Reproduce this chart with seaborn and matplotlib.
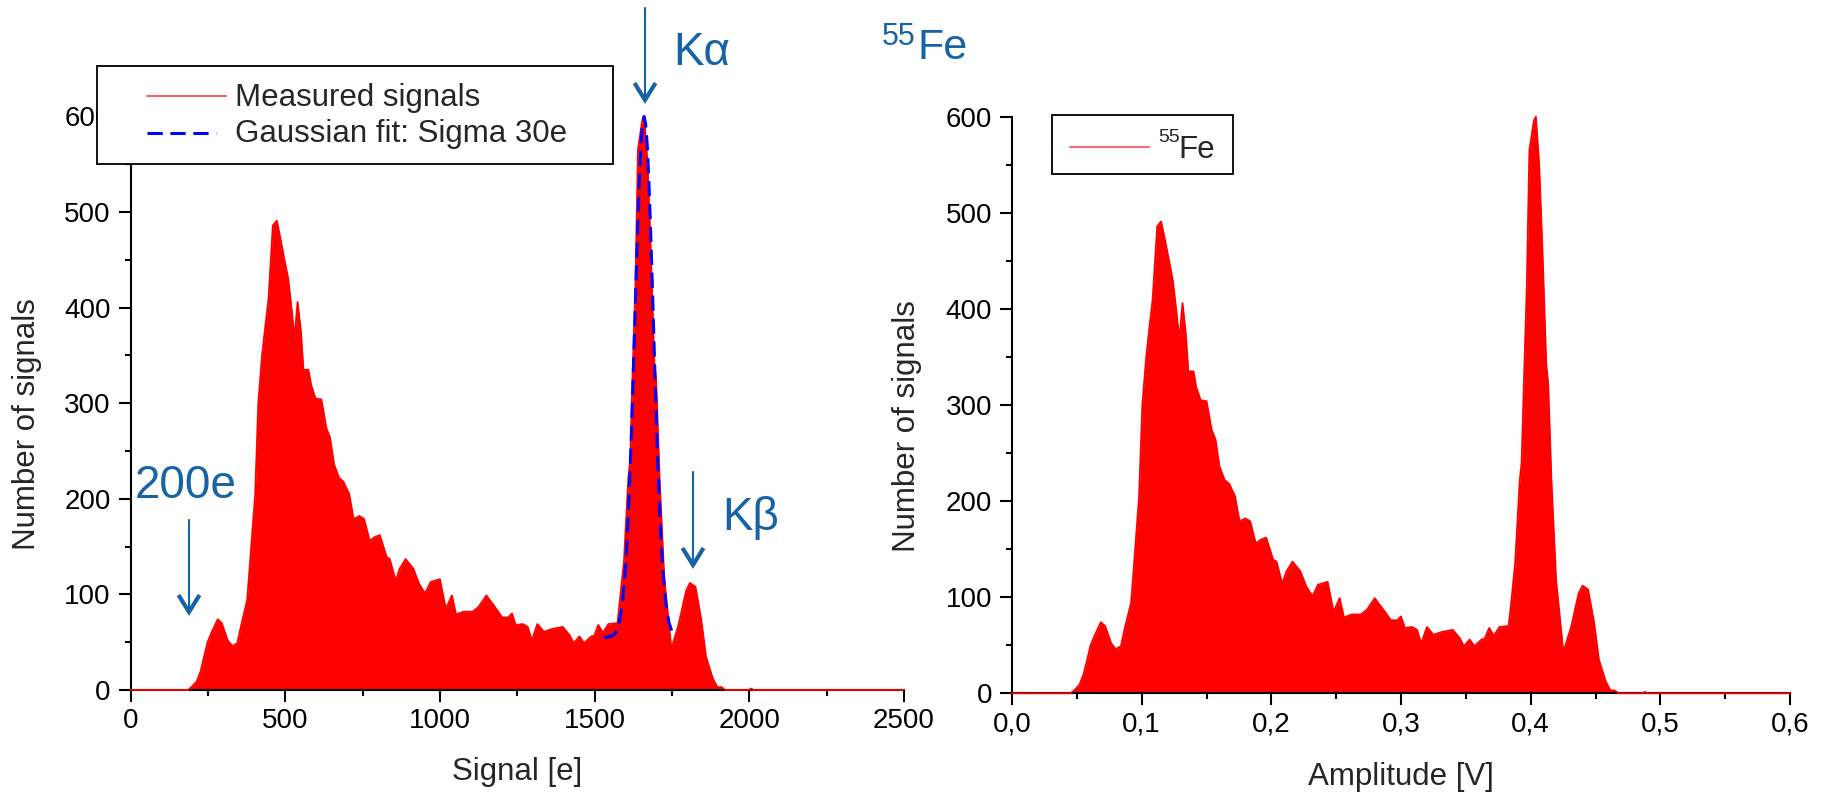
import matplotlib
matplotlib.use("Agg")
import matplotlib.pyplot as plt
from matplotlib.lines import Line2D
from matplotlib.patches import Rectangle
from matplotlib.ticker import FixedLocator, FixedFormatter, MultipleLocator
import pandas as pd
import seaborn as sns

# ---------------- data ----------------
amplitude_v = [0.000, 0.045, 0.048, 0.052, 0.055, 0.058, 0.0606, 0.064, 0.0685, 0.0718,
               0.0765, 0.080, 0.084, 0.087, 0.0918, 0.094, 0.098, 0.1005, 0.1035, 0.106,
               0.1084, 0.112, 0.115, 0.1175, 0.121, 0.124, 0.127, 0.129, 0.1315, 0.134,
               0.136, 0.140, 0.142, 0.1455, 0.150, 0.154, 0.157, 0.160, 0.164, 0.1675,
               0.172, 0.1755, 0.180, 0.1837, 0.188, 0.192, 0.196, 0.2014, 0.204, 0.2084,
               0.2117, 0.2163, 0.2224, 0.227, 0.2317, 0.236, 0.2434, 0.248, 0.2527, 0.256,
               0.262, 0.269, 0.2737, 0.2797, 0.2853, 0.2923, 0.297, 0.300, 0.303, 0.3086,
               0.3124, 0.3156, 0.320, 0.325, 0.332, 0.340, 0.3455, 0.3485, 0.353, 0.3566,
               0.3622, 0.3646, 0.368, 0.3716, 0.376, 0.383, 0.3855, 0.388, 0.3916, 0.393,
               0.395, 0.397, 0.399, 0.4025, 0.404, 0.4065, 0.409, 0.412, 0.4135, 0.416,
               0.4196, 0.4252, 0.431, 0.437, 0.440, 0.4443, 0.449, 0.4526, 0.458, 0.4616,
               0.4648, 0.468, 0.486, 0.488, 0.490, 0.600]

signal_e = [0, 185, 197, 214, 226, 238, 249, 263, 282, 295,
            314, 329, 345, 358, 377, 386, 403, 413, 425, 436,
            446, 460, 473, 483, 497, 510, 522, 530, 540, 551,
            559, 575, 584, 598, 617, 633, 645, 658, 674, 688,
            707, 721, 740, 755, 773, 789, 806, 828, 838, 857,
            870, 889, 914, 933, 952, 970, 1000, 1019, 1039, 1052,
            1077, 1106, 1125, 1150, 1173, 1201, 1221, 1233, 1245, 1268,
            1284, 1297, 1315, 1336, 1365, 1397, 1420, 1432, 1451, 1466,
            1489, 1499, 1512, 1527, 1545, 1574, 1584, 1595, 1609, 1615,
            1623, 1632, 1640, 1654, 1660, 1671, 1681, 1693, 1699, 1710,
            1725, 1748, 1771, 1796, 1808, 1826, 1845, 1860, 1882, 1897,
            1910, 1923, 1997, 2006, 2014, 2500]

counts = [0, 0, 3, 9, 19, 35, 50, 61, 74, 70,
          52, 46, 49, 68, 94, 132, 205, 300, 350, 381,
          409, 486, 491, 475, 451, 430, 395, 368, 406, 375,
          335, 335, 319, 305, 304, 274, 264, 236, 222, 218,
          205, 179, 182, 179, 156, 160, 162, 139, 137, 114,
          127, 137, 127, 111, 101, 113, 116, 85, 99, 79,
          82, 82, 87, 99, 89, 76, 76, 80, 68, 69,
          66, 52, 69, 61, 64, 66, 57, 49, 56, 49,
          56, 57, 68, 60, 69, 70, 101, 135, 222, 240,
          333, 423, 565, 596, 600, 552, 465, 343, 323, 222,
          118, 43, 68, 104, 112, 108, 73, 35, 12, 3,
          3, 0, 0, 1.5, 0, 0]

fit_signal_e = [1530, 1540, 1550, 1560, 1570, 1580, 1590, 1600, 1605, 1610, 1615, 1620,
                1625, 1630, 1635, 1640, 1645, 1650, 1655, 1660, 1665, 1670, 1675, 1680,
                1685, 1690, 1695, 1700, 1705, 1710, 1715, 1720, 1730, 1740, 1750]
fit_counts = [55, 55, 56, 57, 61, 71, 91, 129, 156, 191, 232, 279,
              331, 386, 440, 491, 536, 571, 592, 600, 592, 571, 536, 491,
              440, 386, 331, 279, 232, 191, 156, 129, 91, 71, 61]

signal_ticks = [0, 500, 1000, 1500, 2000, 2500]
signal_tick_labels = ["0", "500", "1000", "1500", "2000", "2500"]
amp_ticks = [0.0, 0.1, 0.2, 0.3, 0.4, 0.5, 0.6]
amp_tick_labels = ["0,0", "0,1", "0,2", "0,3", "0,4", "0,5", "0,6"]
count_ticks = [0, 100, 200, 300, 400, 500, 600]
count_tick_labels = ["0", "100", "200", "300", "400", "500", "600"]

# ---------------- style ----------------
sns.set_style("ticks")
plt.rcParams["font.family"] = ["Liberation Sans", "DejaVu Sans"]

W, H = 1828, 794
fig = plt.figure(figsize=(W / 100, H / 100), dpi=100)


def fx(x):
    return x / W


def fy(y):
    return 1 - y / H


axL = fig.add_axes([fx(130.5), fy(690), (904 - 130.5) / W, (690 - 116.5) / H])
axR = fig.add_axes([fx(1012), fy(693.3), (1790 - 1012) / W, (693.3 - 116.7) / H])

df = pd.DataFrame({"amplitude_v": amplitude_v, "signal_e": signal_e, "counts": counts})
fit_df = pd.DataFrame({"signal_e": fit_signal_e, "counts": fit_counts})

RED = "#ff0000"
for ax, xcol in ((axL, "signal_e"), (axR, "amplitude_v")):
    ax.fill_between(df[xcol], df["counts"], 0, color=RED, lw=0, zorder=2)
    sns.lineplot(data=df, x=xcol, y="counts", ax=ax, color=RED, lw=1.3,
                 estimator=None, sort=False, zorder=3, clip_on=False)

sns.lineplot(data=fit_df, x="signal_e", y="counts", ax=axL, color="#0000ff", lw=2.2,
             linestyle=(0, (5, 2.5)), estimator=None, sort=False, zorder=4, clip_on=False)

TICK_FS = 20
LABEL_FS = 22.5
for ax in (axL, axR):
    ax.set_ylim(0, 600)
    ax.yaxis.set_major_locator(FixedLocator(count_ticks))
    ax.yaxis.set_major_formatter(FixedFormatter(count_tick_labels))
    ax.yaxis.set_minor_locator(MultipleLocator(50))
    sns.despine(ax=ax)
    for s in ("left", "bottom"):
        ax.spines[s].set_linewidth(1.5)
        ax.spines[s].set_color("black")
    ax.tick_params(which="major", direction="out", length=8.4, width=1.5,
                   labelsize=TICK_FS, colors="black")
    ax.tick_params(which="minor", direction="out", length=4.5, width=1.5, colors="black")
    ax.tick_params(axis="x", which="major", pad=4.5)
    ax.tick_params(axis="y", which="major", pad=6.0)
    ax.set_ylabel("Number of signals", fontsize=LABEL_FS)
    ax.set_facecolor("white")

axL.set_xlim(0, 2500)
axL.xaxis.set_major_locator(FixedLocator(signal_ticks))
axL.xaxis.set_major_formatter(FixedFormatter(signal_tick_labels))
axL.xaxis.set_minor_locator(MultipleLocator(250))
axL.set_xlabel("Signal [e]", fontsize=LABEL_FS)
axL.xaxis.set_label_coords(0.5, -0.1175)
axL.yaxis.set_label_coords((42 - 130.5) / 773.5, 0.463)

axR.set_xlim(0, 0.6)
axR.xaxis.set_major_locator(FixedLocator(amp_ticks))
axR.xaxis.set_major_formatter(FixedFormatter(amp_tick_labels))
axR.xaxis.set_minor_locator(MultipleLocator(0.05))
axR.set_xlabel("Amplitude [V]", fontsize=LABEL_FS)
axR.xaxis.set_label_coords(0.5, -0.119)
axR.yaxis.set_label_coords((922 - 1012) / 778, 0.4636)

# ---------------- legends (drawn as figure artists) ----------------
LEG_FS = 22.5


def box(x0, y0, x1, y1):
    fig.add_artist(Rectangle((fx(x0), fy(y1)), fx(x1) - fx(x0), fy(y0) - fy(y1),
                             transform=fig.transFigure, facecolor="white",
                             edgecolor="black", lw=1.3, zorder=10))


def hline(x0, x1, y, **kw):
    fig.add_artist(Line2D([fx(x0), fx(x1)], [fy(y), fy(y)], transform=fig.transFigure,
                          zorder=11, **kw))


def ftext(x, y, s, size, **kw):
    fig.text(fx(x), fy(y), s, fontsize=size, va="baseline", ha="left", zorder=11, **kw)


box(96.8, 65.7, 612.6, 164)
hline(147, 225.5, 95.7, color="#ff5a5a", lw=1.4)
ftext(235, 106, "Measured signals", LEG_FS)
hline(147, 216, 132.7, color="#0000ff", lw=2.2, linestyle=(0, (5, 2.5)))
ftext(235, 142, "Gaussian fit: Sigma 30e", LEG_FS)

box(1051.7, 115, 1232.7, 174)
hline(1070, 1149, 146.7, color="#ff6a6a", lw=1.5)
ftext(1158, 141.7, "55", 14)
ftext(1178, 158.3, "Fe", LEG_FS)

# ---------------- annotations ----------------
BLUE = "#1663a8"


def arrow(x, y0, y1):
    fig.add_artist(Line2D([fx(x), fx(x)], [fy(y0), fy(y1 - 2)], transform=fig.transFigure,
                          color=BLUE, lw=1.5, zorder=12))
    fig.add_artist(Line2D([fx(x - 10.5), fx(x), fx(x + 10.5)],
                          [fy(y1 - 19), fy(y1 - 2), fy(y1 - 19)],
                          transform=fig.transFigure, color=BLUE, lw=3.0,
                          solid_joinstyle="miter", solid_capstyle="butt", zorder=12))


arrow(645, 8, 102)
ftext(673, 65, "Kα", 33, color=BLUE)
arrow(189, 520, 614)
ftext(135, 498, "200e", 33, color=BLUE)
arrow(693, 472, 567)
ftext(722, 530, "Kβ", 33, color=BLUE)
ftext(882, 45, "55", 22, color=BLUE)
ftext(918, 59, "Fe", 31, color=BLUE)

fig.savefig("out.png", dpi=100, facecolor="white")
